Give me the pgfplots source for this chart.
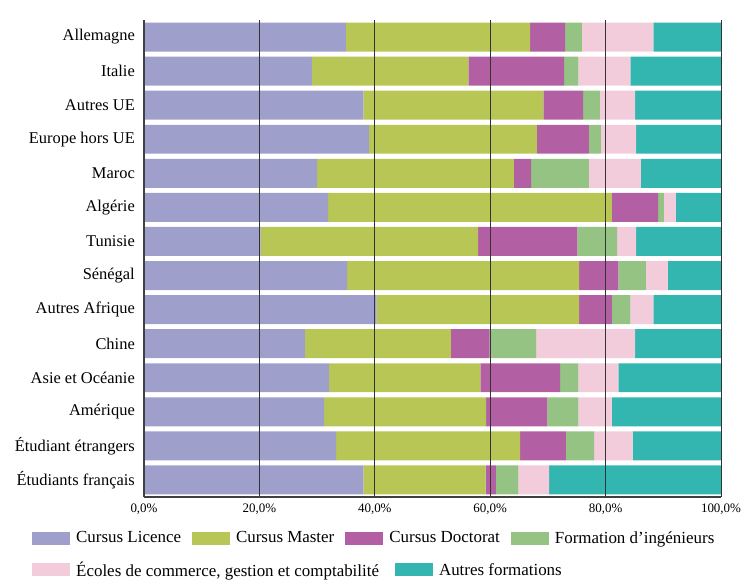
\documentclass[border=0pt]{standalone}
\usepackage{pgfplots}
\pgfplotsset{compat=1.18}
\usepackage{pgfplotstable}
\usepackage{fontspec}
\setmainfont{Liberation Serif}

\definecolor{cL}{HTML}{9E9FCB}
\definecolor{cM}{HTML}{B8C655}
\definecolor{cD}{HTML}{B35FA3}
\definecolor{cI}{HTML}{94C384}
\definecolor{cC}{HTML}{F2CCDA}
\definecolor{cA}{HTML}{34B6B0}

\pgfplotstableread{
idx L M D I C A
14 35.0 31.9 6.1 2.9 12.4 11.7
13 29.1 27.1 16.6 2.5 9.0 15.7
12 38.0 31.2 6.9 2.9 6.1 14.9
11 39.0 29.1 9.0 2.1 6.1 14.7
10 30.0 34.1 3.0 10.0 9.0 13.9
9 31.9 49.2 8.0 1.0 2.1 7.8
8 20.2 37.7 17.2 6.9 3.3 14.7
7 35.2 40.2 6.8 4.8 3.8 9.2
6 40.3 35.1 5.7 3.2 4.0 11.7
5 27.9 25.3 6.7 8.1 17.1 14.9
4 32.1 26.2 13.8 3.2 6.9 17.8
3 31.2 28.1 10.6 5.4 5.8 18.9
2 33.3 31.9 7.9 4.9 6.7 15.3
1 38.0 21.2 1.8 3.9 5.3 29.8
}\data

\pgfplotsset{
  sw/.style={legend image code/.code={\fill[##1] (0bp,-6.5bp) rectangle (38bp,6.5bp);}},
  legfont/.style={legend style={font=\fontsize{17}{19}\selectfont, draw=none, fill=none, inner sep=0pt,
      /tikz/every odd column/.append style={column sep=4bp},
      /tikz/every even column/.append style={column sep=#1}}},
}

\begin{document}
\begin{tikzpicture}
\begin{axis}[
  scale only axis, width=577bp, height=477bp,
  xbar stacked, bar width=0.85,
  xmin=0, xmax=100, ymin=0.5, ymax=14.5,
  ytick={1,...,14},
  yticklabels={Étudiants français, Étudiant étrangers, Amérique, Asie et Océanie, Chine, Autres Afrique, Sénégal, Tunisie, Algérie, Maroc, Europe hors UE, Autres UE, Italie, Allemagne},
  xtick={0,20,40,60,80,100},
  /pgf/number format/assume math mode=true,
  xticklabel={\pgfmathprintnumber[fixed,fixed zerofill,precision=1,use comma]{\tick}\%},
  xticklabel style={font=\fontsize{13}{15}\selectfont, inner sep=0pt, yshift=-7bp},
  yticklabel style={font=\fontsize{16.5}{19}\selectfont, inner sep=0pt, xshift=-9bp},
  major tick length=0pt,
  axis lines*=left,
  axis line style={draw=black!75, line width=1.6bp},
  xmajorgrids, major grid style={draw=black!80, line width=0.8bp},
  axis on top,
  legfont=9bp,
  legend columns=-1,
  legend style={at={(-0.1941,-0.0860)}, anchor=west},
]
\addplot[fill=cL, draw=none, sw] table[x=L, y=idx] {\data};
\addplot[fill=cM, draw=none, sw] table[x=M, y=idx] {\data};
\addplot[fill=cD, draw=none, sw] table[x=D, y=idx] {\data};
\addplot[fill=cI, draw=none, sw] table[x=I, y=idx] {\data};
\addplot[fill=cC, draw=none, sw] table[x=C, y=idx] {\data};
\addplot[fill=cA, draw=none, sw] table[x=A, y=idx] {\data};
\legend{Cursus Licence, Cursus Master, Cursus Doctorat, Formation d’ingénieurs}
\end{axis}
\begin{axis}[
  scale only axis, width=577bp, height=477bp,
  hide axis, xmin=0, xmax=1, ymin=0, ymax=1,
  legfont=14bp,
  legend columns=-1,
  legend style={at={(-0.1941,-0.1530)}, anchor=west},
]
\addlegendimage{fill=cC, draw=none, sw}
\addlegendentry{Écoles de commerce, gestion et comptabilité}
\addlegendimage{fill=cA, draw=none, sw}
\addlegendentry{Autres formations}
\end{axis}
\pgfresetboundingbox
\path[use as bounding box] (-144bp,-84bp) rectangle (599bp,497bp);
\end{tikzpicture}
\end{document}
